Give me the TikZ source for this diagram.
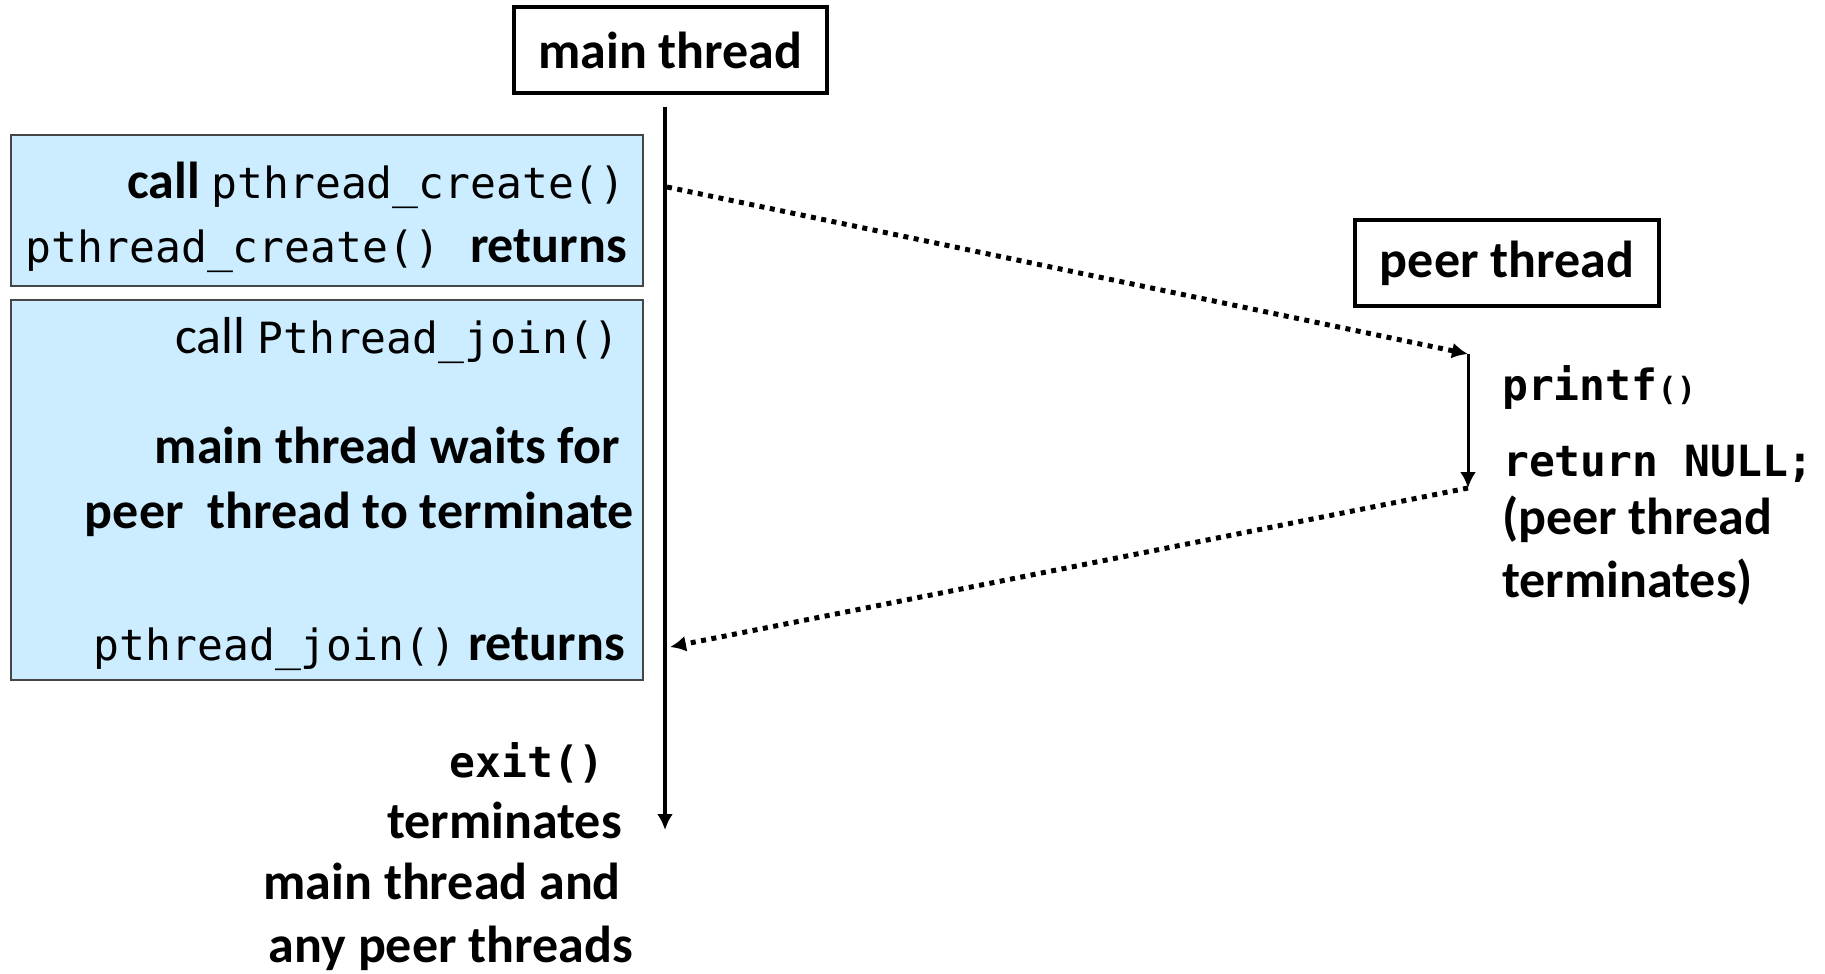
\documentclass[tikz,border=0pt]{standalone}
\usepackage{fontspec}
\setmainfont{Carlito}
\setmonofont{DejaVu Sans Mono}
\usetikzlibrary{arrows.meta}
\definecolor{boxblue}{RGB}{204,236,255}
\definecolor{boxedge}{RGB}{70,70,70}
\newcommand{\bigf}{\fontsize{52}{62}\selectfont}
\newcommand{\mcode}[1]{{\fontsize{43}{52}\selectfont\ttfamily #1}}
\newcommand{\mcodesmall}[1]{{\fontsize{32}{40}\selectfont\ttfamily #1}}
\begin{document}
\begin{tikzpicture}[x=1pt,y=-1pt,
  titlebox/.style={draw=black, line width=4pt, inner sep=0pt, font=\bigf\bfseries},
  bluebox/.style={draw=boxedge, line width=1.5pt, fill=boxblue, inner sep=0pt},
  lbl/.style={inner sep=0pt, font=\bigf},
  blbl/.style={inner sep=0pt, font=\bigf\bfseries},
  lifeline/.style={line width=4.5pt},
  peerline/.style={line width=3pt},
  msg/.style={line width=5pt, dash pattern=on 5pt off 5.5pt},
  tip/.style={-{Latex[length=16pt,width=16pt]}}
]
\useasboundingbox (0,0) rectangle (1825,974);
\fill[white] (0,0) rectangle (1825,974);

% title boxes
\node[titlebox, minimum width=313pt, minimum height=86pt, anchor=north west] (mainbox) at (512,5) {main thread};
\node[titlebox, minimum width=304pt, minimum height=86pt, anchor=north west] (peerbox) at (1353,218) {peer thread};

% blue boxes
\node[bluebox, minimum width=632pt, minimum height=151pt, anchor=north west] (box1) at (10,134) {};
\node[bluebox, minimum width=632pt, minimum height=380pt, anchor=north west] (box2) at (10,299) {};

% box 1 text
\node[lbl, anchor=base east] (t1) at (626,198) {\textbf{call} \mcode{pthread\_create()}};
\node[lbl, anchor=base east] (t2) at (627,262) {\mcode{pthread\_create()}\hspace{30pt}\textbf{returns}};

% box 2 text
\node[lbl, anchor=base east] (t3) at (620,353) {call \mcode{Pthread\_join()}};
\node[blbl, anchor=base east] (t4) at (620,463) {main thread waits for};
\node[blbl, anchor=base east] (t5) at (634,528) {peer\hspace{12pt} thread to terminate};
\node[lbl, anchor=base east] (t6) at (625,660) {\mcode{pthread\_join()} \textbf{returns}};

% exit text
\node[blbl, anchor=base east] (e1) at (605,777) {\mcode{exit()}};
\node[blbl, anchor=base east] (e2) at (622,838) {terminates};
\node[blbl, anchor=base east] (e3) at (621,899) {main thread and};
\node[blbl, anchor=base east] (e4) at (633,962) {any peer threads};

% peer text
\node[blbl, anchor=base west] (p1) at (1502,400) {\mcode{printf}\mcodesmall{()}};
\node[blbl, anchor=base west] (p2) at (1503,476) {\mcode{return NULL;}};
\node[blbl, anchor=base west] (p3) at (1502,534) {(peer thread};
\node[blbl, anchor=base west] (p4) at (1502,597) {terminates)};

% lifelines
\coordinate (mtop) at (665,107);
\coordinate (mbot) at (665,830);
\draw[lifeline, tip] (mtop) -- (mbot);

\coordinate (ptop) at (1468,354);
\coordinate (pbot) at (1468,488);
\draw[peerline, tip] (ptop) -- (pbot);

% messages
\coordinate (c1) at (667,187);
\coordinate (j1) at (670,647);
\draw[msg, tip] (c1) -- (ptop);
\draw[msg, tip] (pbot) -- (j1);
\end{tikzpicture}
\end{document}
